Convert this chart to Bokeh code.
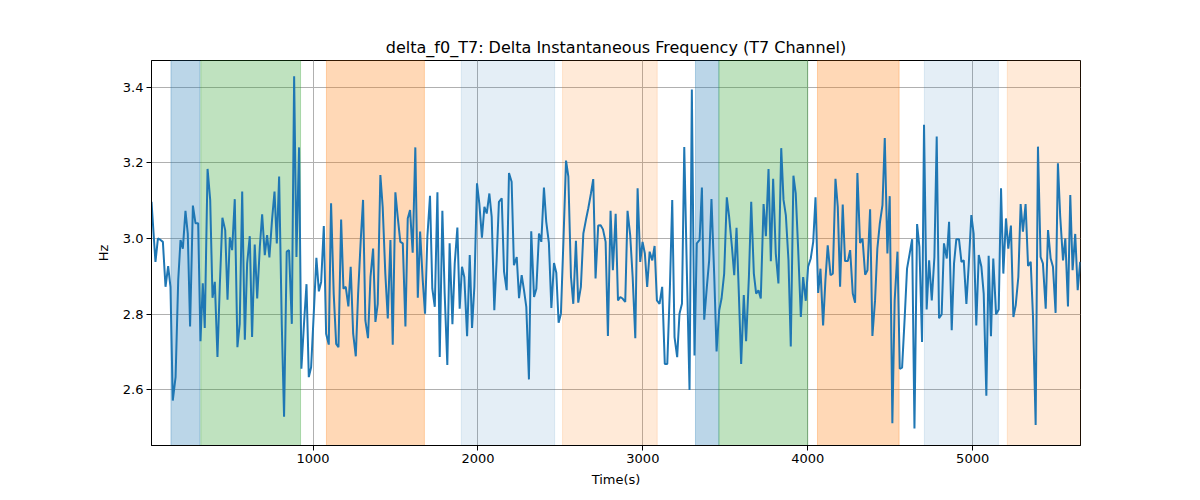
from bokeh.plotting import figure
from bokeh.models import Range1d, FixedTicker, BoxAnnotation, PrintfTickFormatter
from bokeh.embed import file_html
from bokeh.resources import INLINE

# samples of the T7 delta instantaneous frequency
time_s = [
    20, 44, 59, 75, 89, 105, 121, 135, 149, 166, 182, 196, 210, 226, 240, 254, 271, 287, 303, 317,
    331, 343, 360, 376, 390, 404, 420, 434, 450, 467, 481, 495, 509, 525, 541, 555, 570, 586, 600, 616,
    630, 646, 661, 677, 691, 707, 721, 735, 751, 766, 780, 794, 810, 824, 840, 854, 871, 885, 899, 915, 929,
    946, 960, 974, 988, 1004, 1020, 1035, 1049, 1065, 1079, 1095, 1109, 1125, 1140, 1154, 1170, 1184, 1198, 1214, 1228,
    1243, 1259, 1273, 1289, 1303, 1317, 1333, 1348, 1364, 1378, 1392, 1408, 1422, 1438, 1453, 1469, 1483, 1499, 1513, 1529,
    1544, 1560, 1574, 1588, 1604, 1620, 1635, 1649, 1665, 1679, 1693, 1709, 1723, 1738, 1754, 1768, 1784, 1798, 1814, 1828,
    1845, 1859, 1875,
    1889, 1903, 1917, 1934, 1950, 1964, 1978, 1994, 2008, 2024, 2039, 2053, 2069, 2083, 2099, 2113, 2127, 2144, 2158, 2174,
    2188, 2204, 2218, 2235, 2249, 2265, 2279, 2293, 2309, 2323, 2340, 2354, 2370, 2384, 2400, 2414, 2430, 2445, 2461, 2475,
    2489, 2503, 2519, 2534, 2548, 2564, 2578, 2594, 2608, 2624, 2639, 2655, 2669, 2685, 2699, 2713, 2729, 2744, 2758, 2774,
    2788, 2804, 2818,
    2835, 2849, 2863, 2877, 2893, 2907, 2923, 2938, 2954, 2968, 2984, 2998, 3012, 3026, 3041, 3057, 3071, 3085, 3101, 3117,
    3133, 3148, 3164, 3178, 3192, 3208, 3222, 3237, 3251, 3267, 3283, 3297, 3313, 3327, 3344, 3358, 3372, 3388, 3402, 3416,
    3433, 3447, 3463, 3477, 3493, 3509, 3523, 3540, 3554, 3568, 3582, 3596, 3612, 3626, 3643, 3657, 3673, 3687, 3701, 3715,
    3732, 3746, 3762,
    3776, 3790, 3806, 3822, 3839, 3853, 3867, 3883, 3897, 3913, 3927, 3942, 3958, 3972, 3988, 4002, 4018, 4033, 4047, 4063,
    4077, 4093, 4107, 4121, 4138, 4152, 4168, 4182, 4196, 4212, 4226, 4243, 4257, 4273, 4287, 4301, 4317, 4332, 4348, 4362,
    4378, 4392, 4408, 4422, 4437, 4453, 4467, 4483, 4497, 4513, 4527, 4544, 4558, 4572, 4588, 4602, 4618, 4633, 4647, 4663,
    4677, 4693,
    4705, 4721, 4736, 4752, 4768, 4782, 4796, 4812, 4826, 4843, 4857, 4873, 4887, 4901, 4917, 4932, 4946, 4962, 4976, 4992,
    5006, 5022, 5037, 5053, 5067, 5083, 5097, 5111, 5125, 5142, 5158, 5172, 5186, 5202, 5216, 5232, 5247, 5261, 5277, 5291,
    5305, 5321, 5336, 5352, 5366, 5382, 5396, 5412, 5426, 5443, 5457, 5473, 5487, 5503, 5517, 5531, 5548, 5562, 5578, 5592,
    5606, 5622, 5637, 5652,
]

hz = [
    3.097, 2.938, 3.000, 2.996, 2.991, 2.872, 2.927, 2.872, 2.571, 2.633,
    2.889, 2.996, 2.973, 3.073, 3.013, 2.767, 3.087, 3.040, 3.040, 2.728,
    2.881, 2.763, 3.184, 3.102, 2.843, 2.885, 2.686, 2.872, 3.055, 3.022,
    2.838, 3.003, 2.969, 3.104, 2.712, 2.774, 3.124, 2.732, 2.934, 3.006,
    2.739, 2.984, 2.841, 2.978, 3.064, 2.956, 3.009, 2.950, 3.049, 3.124,
    2.987, 3.164, 2.774, 2.528, 2.965, 2.969, 2.774, 3.429, 2.951, 3.241, 2.655,
    2.783, 2.879, 2.633, 2.659, 2.801, 2.949, 2.860, 2.885, 3.033, 2.748,
    2.719, 3.093, 2.854, 2.721, 2.712, 3.050, 2.867, 2.872, 2.820, 2.925,
    2.748, 2.688, 2.854, 2.996, 3.102, 2.783, 2.736, 2.898, 2.973, 2.779,
    2.827, 3.168, 3.084, 2.907, 2.788, 2.996, 2.719, 3.122, 3.058, 2.991,
    2.987, 2.767, 3.053, 3.075, 2.962, 3.241, 2.843, 3.018, 2.889, 2.801,
    3.004, 3.113, 2.867, 2.819, 3.122, 2.686, 3.073, 2.854, 2.665, 2.987,
    2.773, 2.934, 3.029,
    2.814, 2.925, 2.898, 2.741, 2.956, 2.763, 2.872, 3.146, 3.093, 3.002,
    3.084, 3.066, 3.119, 3.058, 2.810, 2.942, 3.097, 3.106, 2.912, 2.863,
    3.173, 3.150, 2.929, 2.951, 2.842, 2.903, 2.863, 2.819, 2.627, 3.019,
    2.845, 2.867, 3.013, 2.991, 3.135, 3.044, 2.988, 2.816, 2.935, 2.909,
    2.777, 2.801, 3.004, 3.206, 3.164, 2.898, 2.827, 2.994, 2.830, 2.872,
    3.013, 3.050, 3.080, 3.119, 3.157, 2.894, 3.034, 3.035, 3.024, 2.991,
    2.742, 3.073, 2.916,
    3.065, 2.836, 2.845, 2.841, 2.832, 3.073, 3.009, 2.898, 2.736, 3.133,
    2.938, 2.991, 2.960, 2.872, 2.965, 2.942, 2.980, 2.836, 2.827, 2.872,
    2.668, 2.668, 2.872, 3.102, 2.739, 2.686, 2.801, 2.827, 3.242, 2.907,
    2.599, 3.394, 2.690, 2.987, 2.996, 3.135, 2.785, 2.872, 2.942, 3.104,
    2.898, 2.701, 2.810, 2.841, 2.907, 3.109, 3.058, 2.978, 2.903, 3.028,
    2.854, 2.668, 2.850, 2.728, 2.898, 3.097, 2.907, 2.854, 2.863, 2.841,
    3.091, 3.006, 3.184,
    2.940, 3.158, 2.960, 2.881, 3.239, 3.102, 3.062, 2.942, 2.714, 3.166,
    3.119, 2.969, 2.792, 2.898, 2.835, 2.925, 2.947, 2.991, 3.109, 2.856,
    2.920, 2.770, 2.889, 2.982, 2.903, 2.907, 3.158, 3.084, 2.872, 3.090,
    2.940, 2.940, 2.969, 2.854, 2.830, 3.173, 2.988, 3.000, 2.904, 2.916,
    3.077, 2.742, 2.836, 2.973, 3.040, 3.088, 3.266, 2.960, 3.112, 2.511,
    2.836, 2.965, 2.655, 2.658, 2.792, 2.920, 2.960, 2.998, 2.497, 3.038,
    2.978, 2.726,
    3.301, 2.812, 2.942, 2.836, 2.951, 3.270, 2.789, 2.799, 2.987, 2.947,
    3.044, 2.757, 2.934, 2.998, 2.998, 2.938, 2.942, 2.827, 2.929, 3.062,
    3.013, 2.770, 2.956, 2.925, 2.854, 2.584, 2.954, 2.741, 2.947, 2.799,
    2.812, 3.133, 2.907, 3.053, 2.973, 3.034, 2.792, 2.823, 2.898, 3.091,
    3.018, 3.091, 2.927, 2.938, 2.792, 2.506, 3.243, 2.951, 2.934, 2.814,
    3.022, 2.947, 2.925, 2.803, 3.199, 3.058, 2.942, 3.000, 2.820, 3.115,
    2.916, 3.012, 2.863, 2.938,
]

# shaded intervals
span_start = [138, 319, 1081, 1899, 2513, 3319, 3461, 4059, 4707, 5210]
span_end = [314, 924, 1675, 2465, 3087, 3461, 4000, 4554, 5156, 5654]
span_kind = ["blue", "green", "orange", "pale blue", "pale orange",
             "blue", "green", "orange", "pale blue", "pale orange"]

x_ticks = [1000, 2000, 3000, 4000, 5000]
y_ticks = [2.6, 2.8, 3.0, 3.2, 3.4]

kind_style = {
    "blue": ("#1f77b4", 0.3),
    "green": ("#2ca02c", 0.3),
    "orange": ("#ff7f0e", 0.3),
    "pale blue": ("#1f77b4", 0.12),
    "pale orange": ("#ff7f0e", 0.16),
}

FONT = "DejaVu Sans"

p = figure(
    frame_width=929, frame_height=385,
    min_border_left=151, min_border_right=104, min_border_top=60, min_border_bottom=39,
    x_range=Range1d(20, 5654), y_range=Range1d(2.452, 3.471),
    output_backend="svg", toolbar_location=None,
    title="delta_f0_T7: Delta Instantaneous Frequency (T7 Channel)",
    x_axis_label="Time(s)", y_axis_label="Hz",
)

p.title.align = "center"
p.title.text_font = FONT
p.title.text_font_size = "16px"
p.title.text_font_style = "normal"
p.title.text_color = "black"
p.title.standoff = 7

for start, end, kind in zip(span_start, span_end, span_kind):
    color, alpha = kind_style[kind]
    p.add_layout(BoxAnnotation(left=start, right=end, fill_color=color, fill_alpha=alpha,
                               line_color=color, line_alpha=alpha, line_width=1, level="underlay"))

p.line(time_s, hz, line_color="#1f77b4", line_width=2)

p.xaxis.ticker = FixedTicker(ticks=x_ticks)
p.yaxis.ticker = FixedTicker(ticks=y_ticks)
p.yaxis.formatter = PrintfTickFormatter(format="%.1f")
for ax in (p.xaxis, p.yaxis):
    ax.minor_tick_line_color = None
    ax.major_tick_out = 5
    ax.major_tick_in = 0
    ax.major_label_standoff = 3
    ax.major_label_text_font = FONT
    ax.major_label_text_font_size = "13px"
    ax.major_label_text_color = "black"
    ax.axis_label_text_font = FONT
    ax.axis_label_text_font_size = "13px"
    ax.axis_label_text_font_style = "normal"
    ax.axis_label_text_color = "black"
    ax.axis_line_color = "black"
    ax.major_tick_line_color = "black"
p.xaxis.axis_label_standoff = 6
p.yaxis.axis_label_standoff = 9

p.grid.grid_line_color = "#b0b0b0"
p.grid.grid_line_width = 1
p.outline_line_color = "black"
p.outline_line_width = 1
p.background_fill_color = "white"
p.border_fill_color = "white"

open("out.html", "w").write(file_html(p, INLINE))
